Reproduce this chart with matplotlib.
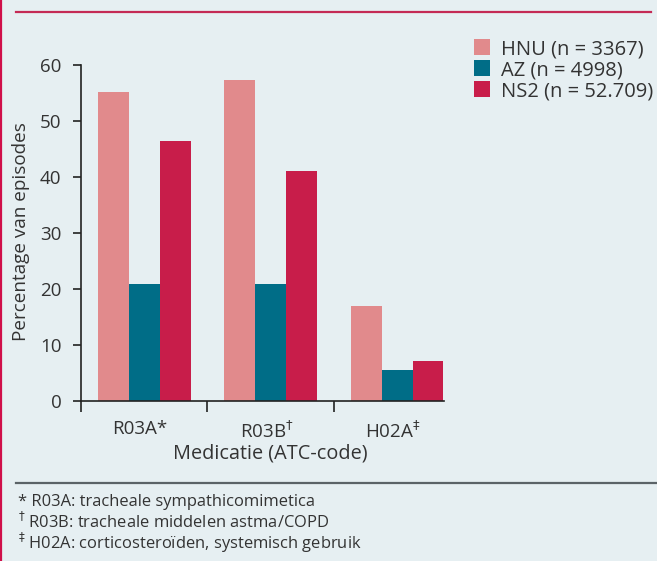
import matplotlib
matplotlib.use('Agg')
import matplotlib.pyplot as plt
from matplotlib.lines import Line2D
from matplotlib.transforms import ScaledTranslation
import numpy as np

plt.rcParams['font.family'] = ['Open Sans', 'DejaVu Sans']

categories = ['R03A*', r'R03B$^{\dagger}$', r'H02A$^{\ddagger}$']
series_names = ['HNU (n = 3367)', 'AZ (n = 4998)', 'NS2 (n = 52.709)']
hnu = [55.2, 57.3, 17.0]
az = [20.9, 20.9, 5.5]
ns2 = [46.4, 41.1, 7.1]
colors = ['#e18a8c', '#006d87', '#c81d4a']
footnotes = ['* R03A: tracheale sympathicomimetica',
             r'$^{\dagger}$ R03B: tracheale middelen astma/COPD',
             r'$^{\ddagger}$ H02A: corticosteroïden, systemisch gebruik']

bg = '#e6eff2'
txt = '#333333'
W, H = 657, 561

fig = plt.figure(figsize=(W / 100, H / 100), dpi=100, facecolor=bg)
ax = fig.add_axes([81 / W, 1 - 401 / H, (443.5 - 81) / W, (401 - 65) / H])
ax.set_facecolor(bg)

x = np.arange(len(categories))
bw = 0.244
for i, (vals, name) in enumerate(zip([hnu, az, ns2], series_names)):
    ax.bar(x + (i - 1) * bw, vals, width=bw, color=colors[i], label=name, zorder=2)

ax.set_xlim(-0.5, 2 + 1.5 * bw)
ax.set_ylim(0, 60)
ax.set_yticks(range(0, 61, 10))
for s in ['top', 'right']:
    ax.spines[s].set_visible(False)
for s in ['left', 'bottom']:
    ax.spines[s].set_color('#222222')
    ax.spines[s].set_linewidth(1.2)

ax.set_xticks(x)
ax.set_xticklabels(categories)
ax.set_xticks([-0.5, 0.5, 1.5], minor=True)
ax.tick_params(axis='x', which='major', length=0, pad=14, labelsize=13.5, labelcolor=txt)
ax.tick_params(axis='x', which='minor', length=8, width=1.2, direction='out', color='#222222')
ax.tick_params(axis='y', length=6, width=1.2, direction='out', pad=8, labelsize=13.5,
               labelcolor=txt, color='#222222')
# centre the base text, not the superscript
for lbl in ax.get_xticklabels():
    lbl.set_transform(lbl.get_transform() + ScaledTranslation(-0.04, 0, fig.dpi_scale_trans))

fig.text(270 / W, 1 - 453 / H, 'Medicatie (ATC-code)', ha='center', va='center',
         fontsize=14.3, color=txt)
fig.text(21 / W, 1 - 232 / H, 'Percentage van episodes', ha='center', va='center',
         rotation=90, fontsize=13.6, color=txt)

fig.legend(loc='upper left', bbox_to_anchor=(466 / W, 1 - 31 / H), frameon=False,
           fontsize=14.5, handlelength=0.8, handleheight=0.8, handletextpad=0.55,
           labelspacing=0.05, borderaxespad=0, labelcolor=txt)

for k, line in enumerate(footnotes):
    fig.text(18 / W, 1 - (506 + k * 21.5) / H, line, ha='left', va='baseline',
             fontsize=11.9, color=txt)

# frame lines
fig.add_artist(Line2D([16 / W, 651 / W], [1 - 12 / H] * 2, color='#c42a55', lw=1.6))
fig.add_artist(Line2D([16 / W, 1], [1 - 483 / H] * 2, color='#5b6367', lw=1.6))
fig.add_artist(Line2D([0.8 / W] * 2, [0, 1], color='#d0104a', lw=1.6))

plt.savefig('out.png', dpi=100, facecolor=bg)
